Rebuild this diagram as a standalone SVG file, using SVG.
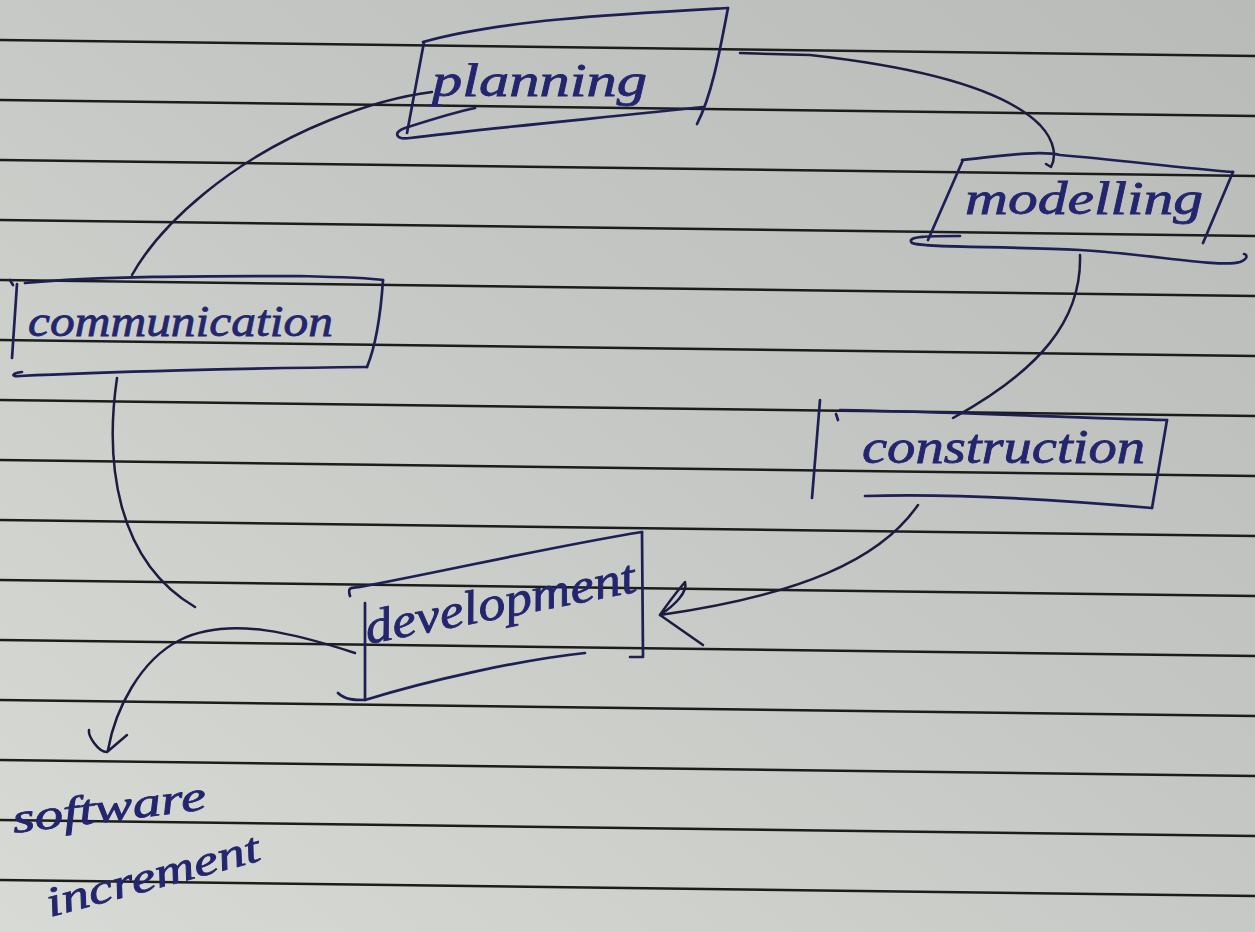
<svg xmlns="http://www.w3.org/2000/svg" width="1255" height="932" viewBox="0 0 1255 932">
  <defs>
    <linearGradient id="paper" x1="1" y1="0" x2="0" y2="1">
      <stop offset="0" stop-color="#b8bbb8"/>
      <stop offset="0.45" stop-color="#c4c7c3"/>
      <stop offset="1" stop-color="#d8dbd5"/>
    </linearGradient>
    <style>
      .rule { stroke: #1c1c1c; stroke-width: 2.4; fill: none; }
      .ink { stroke: #1d1f55; stroke-width: 2.7; fill: none; stroke-linecap: round; stroke-linejoin: round; }
      .link { stroke: #1b1c40; stroke-width: 2.5; fill: none; stroke-linecap: round; stroke-linejoin: round; }
      .hand { font-family: "Liberation Serif", "DejaVu Serif", serif; font-style: italic; fill: #23266e; stroke: #23266e; stroke-width: 0.8; }
    </style>
  </defs>

  <!-- ruled notebook page -->
  <rect width="1255" height="932" fill="url(#paper)"/>
  <g id="ruling">
    <line class="rule" x1="0" y1="40" x2="1255" y2="56"/>
    <line class="rule" x1="0" y1="100" x2="1255" y2="116"/>
    <line class="rule" x1="0" y1="160" x2="1255" y2="176"/>
    <line class="rule" x1="0" y1="220" x2="1255" y2="236"/>
    <line class="rule" x1="0" y1="280" x2="1255" y2="296"/>
    <line class="rule" x1="0" y1="340" x2="1255" y2="356"/>
    <line class="rule" x1="0" y1="400" x2="1255" y2="416"/>
    <line class="rule" x1="0" y1="460" x2="1255" y2="476"/>
    <line class="rule" x1="0" y1="520" x2="1255" y2="536"/>
    <line class="rule" x1="0" y1="580" x2="1255" y2="596"/>
    <line class="rule" x1="0" y1="640" x2="1255" y2="656"/>
    <line class="rule" x1="0" y1="700" x2="1255" y2="716"/>
    <line class="rule" x1="0" y1="760" x2="1255" y2="776"/>
    <line class="rule" x1="0" y1="820" x2="1255" y2="836"/>
    <line class="rule" x1="0" y1="880" x2="1255" y2="896"/>
  </g>

  <!-- connectors between the phases -->
  <g id="connectors">
    <!-- communication -> planning -->
    <path class="link" d="M132,275 C160,225 230,160 330,120 C370,104 400,96 432,92"/>
    <!-- planning -> modelling -->
    <path class="link" d="M740,53 L810,55 C900,65 1000,85 1040,125 C1056,142 1056,158 1051,167 L1046,164"/>
    <!-- modelling -> construction -->
    <path class="link" d="M1080,255 C1082,320 1040,370 953,418"/>
    <!-- construction -> development -->
    <path class="link" d="M918,505 C880,560 800,595 660,615"/>
    <path class="link" d="M660,615 C670,600 680,588 685,582 C688,592 675,605 660,615 M660,615 L703,645"/>
    <!-- communication -> development -->
    <path class="link" d="M117,378 C105,460 115,560 195,607"/>
    <!-- development -> software increment -->
    <path class="link" d="M355,653 C300,635 230,615 180,640 C140,660 115,710 108,750"/>
    <path class="link" d="M89,730 C88,736 98,752 107,752 L127,735"/>
  </g>

  <g id="planning">
    <path class="ink" d="M423,42 C500,20 620,14 728,8"/>
    <path class="ink" d="M728,8 C720,50 712,95 697,124"/>
    <path class="ink" d="M703,107 C600,118 470,130 410,138 C395,140 393,132 405,128 C430,120 455,112 475,108"/>
    <path class="ink" d="M424,42 L407,133"/>
    <text class="hand" x="432" y="96" font-size="46" textLength="215" lengthAdjust="spacingAndGlyphs">planning</text>
  </g>

  <g id="modelling">
    <path class="ink" d="M962,160 C1000,156 1040,150 1060,155 C1120,160 1180,168 1233,172"/>
    <path class="ink" d="M1233,172 L1203,243"/>
    <path class="ink" d="M963,160 L928,240"/>
    <path class="ink" d="M960,236 C930,236 905,236 912,243 C925,248 1000,246 1080,250 C1150,254 1220,268 1240,262 C1250,258 1246,254 1244,254"/>
    <text class="hand" x="965" y="214" font-size="46" textLength="238" lengthAdjust="spacingAndGlyphs">modelling</text>
  </g>

  <g id="communication">
    <path class="ink" d="M25,283 C100,276 200,276 300,276 C340,277 370,278 383,280"/>
    <path class="ink" d="M383,280 C381,310 376,345 367,367"/>
    <path class="ink" d="M17,284 L12,358"/>
    <path class="ink" d="M367,367 C250,368 100,372 20,376 C10,377 12,373 22,372"/>
    <path class="ink" d="M10,280 L13,285"/>
    <text class="hand" x="28" y="336" font-size="44" textLength="305" lengthAdjust="spacingAndGlyphs">communication</text>
  </g>

  <g id="construction">
    <path class="ink" d="M820,400 L812,498"/>
    <path class="ink" d="M840,410 C950,412 1080,418 1167,420"/>
    <path class="ink" d="M1167,420 L1152,508"/>
    <path class="ink" d="M865,496 C950,493 1060,500 1152,508"/>
    <path class="ink" d="M836,414 L838,420"/>
    <text class="hand" x="862" y="463" font-size="48" textLength="283" lengthAdjust="spacingAndGlyphs">construction</text>
  </g>

  <g id="development">
    <path class="ink" d="M350,596 C347,586 352,588 360,587 C450,570 560,545 642,532"/>
    <path class="ink" d="M642,532 L643,657 L630,657"/>
    <path class="ink" d="M365,603 L365,700"/>
    <path class="ink" d="M338,693 C345,700 355,700 365,700 C430,680 520,660 585,653"/>
    <text class="hand" x="368" y="644" font-size="48" textLength="275" lengthAdjust="spacingAndGlyphs" transform="rotate(-11 368 644)">development</text>
  </g>

  <g id="software-increment">
    <text class="hand" x="14" y="833" font-size="42" textLength="195" lengthAdjust="spacingAndGlyphs" transform="rotate(-7 14 833)">software</text>
    <text class="hand" x="50" y="917" font-size="42" textLength="220" lengthAdjust="spacingAndGlyphs" transform="rotate(-15 50 917)">increment</text>
  </g>
</svg>
